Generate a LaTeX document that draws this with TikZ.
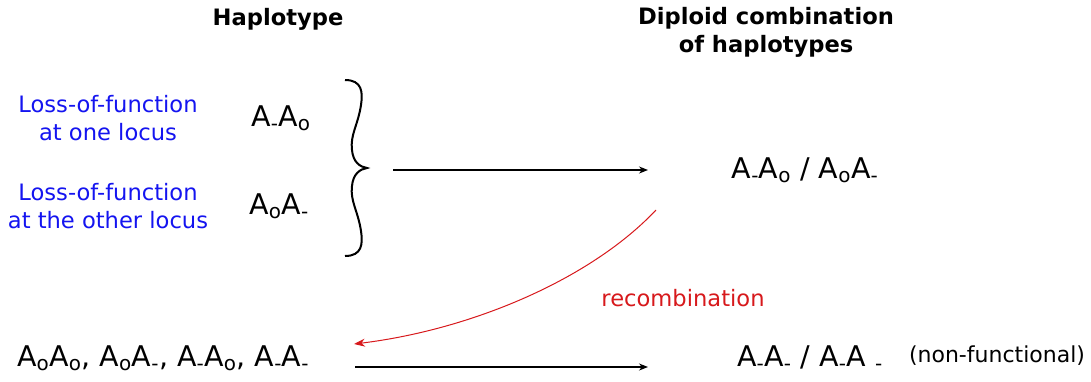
\documentclass[tikz,border=0pt]{standalone}
\usepackage{fontspec}
\setmainfont{DejaVu Sans}
\usepackage{tikz}
\usetikzlibrary{positioning, arrows.meta}

\definecolor{recred}{RGB}{215,25,28}
\definecolor{lofblue}{RGB}{20,20,240}
\newcommand{\hapO}{A\textsubscript{o}}
\newcommand{\hapM}{A\textsubscript{-}}

\begin{document}
\begin{tikzpicture}[x=1pt, y=-1pt, >={Stealth[length=9pt,width=7pt]},
      head/.style={font=\fontsize{22.6}{28}\selectfont\bfseries, align=center, inner sep=0pt},
      lof/.style={font=\fontsize{22.6}{28}\selectfont, text=lofblue, align=center, inner sep=0pt},
      geno/.style={font=\fontsize{28.5}{32}\selectfont, inner sep=0pt},
      conn/.style={->, line width=1.2pt}]
    \useasboundingbox (0,0) rectangle (1091,381);
    % --- column headings ---
    \node[head] (haphead) at (278,19) {Haplotype};
    \node[head] (diphead) at (766,32) {Diploid combination\\of haplotypes};
    % --- the two haplotypes ---
    \node[lof] (lofone)   at (108,118) {Loss-of-function\\at one locus};
    \node[lof] (lofother) at (108,206) {Loss-of-function\\at the other locus};
    \node[geno] (hapone)   at (281,118) {\hapM\hapO};
    \node[geno] (hapother) at (279,206) {\hapO\hapM};
    \draw[line width=2pt] (345,80) .. controls (362,80) and (363,92) .. (361,105)
      .. controls (358,125) and (350,135) .. (352,150)
      .. controls (353,162) and (360,167) .. (367,168)
      .. controls (360,169) and (353,174) .. (352,186)
      .. controls (350,201) and (358,211) .. (361,231)
      .. controls (363,244) and (362,256) .. (345,256);
    \coordinate (bracetip) at (393,170);
    % --- diploid ---
    \node[geno] (dip) at (805,170) {\hapM\hapO{} / \hapO\hapM};
    \draw[conn] (bracetip) -- (648,170);
    % --- recombinants ---
    \node[geno, anchor=west] (recs) at (17,358) {\hapO\hapO, \hapO\hapM, \hapM\hapO, \hapM\hapM};
    \node[geno] (nonfun) at (810,358) {\hapM\hapM{} / \hapM A \textsubscript{-}};
    \node[font=\fontsize{22}{26}\selectfont, inner sep=0pt] (nonlabel) at (997,356) {(non-functional)};
    \coordinate (reclow) at (355,367);
    \draw[conn] (reclow) -- (648,367);
    \coordinate (recstart) at (656,210);
    \coordinate (recend) at (354,344);
    \draw[-{Stealth[length=11pt,width=8pt]}, recred, line width=1pt] (recstart) .. controls (590,280) and (470,330) .. (recend);
    \node[font=\fontsize{22.6}{26}\selectfont, text=recred, inner sep=0pt] (reclabel) at (683,298) {recombination};
  \end{tikzpicture}
\end{document}
